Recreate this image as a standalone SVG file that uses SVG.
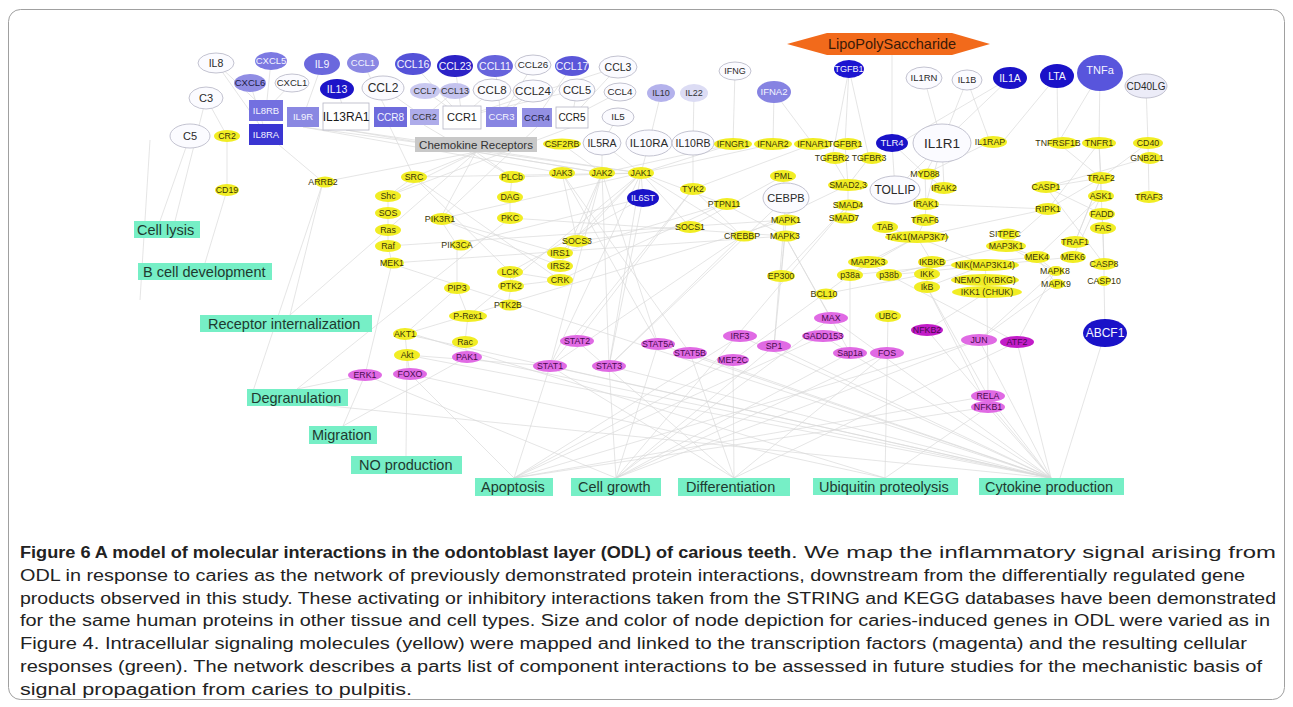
<svg xmlns="http://www.w3.org/2000/svg" width="1293" height="707" viewBox="0 0 1293 707">
<style>
text{font-family:"Liberation Sans",Arial,sans-serif;text-anchor:middle}
.w{fill:#fbfbff;stroke:#b4b4c4;stroke-width:0.8}
.y{fill:#f1ed24}
.m{fill:#e06ae4}
.md{fill:#c21cc8}
.g{fill:#76efc6}
.ty{font-size:8.8px;fill:#3a3508}
.tm{font-size:8.8px;fill:#4a0a50}
.tw{font-size:10.5px;fill:#2a2a2a}
.tb{font-size:10.5px;fill:#f4f4ff}
.tg{font-size:14.5px;fill:#1e3a30;text-anchor:start}
.cap{font-size:16px;fill:#222;text-anchor:start}
#connectors path{stroke:#dadada;stroke-width:0.7;fill:none}
</style>
<rect x="8.5" y="9.5" width="1276" height="690" rx="12" fill="#fff" stroke="#a0a0a0" stroke-width="1"/>

<g id="connectors">
<path d="M216 63L266 110M216 63L266 134M271 61L266 110M250 83L266 134M292 83L266 110M322 64L303 117M337 89L346 116M363 63L390 117M383 88L424 117M413 64L462 117M455 66L462 117M425 91L462 117M455 91L424 117M492 90L462 117M495 66L501 117M533 65L501 117M533 91L501 117M572 66L537 117M577 90L572 117M618 67L572 117M620 92L572 117M577 90L462 117M618 67L462 117"/>
<path d="M618 117L602 143M661 93L649 143M694 93L693 143M735 71L733 144M774 92L773 144M774 92L813 144M849 69L845 144M849 69L832 158M849 69L869 158M892 54L892 143M924 78L942 143M967 80L942 143M1010 78L942 143M967 80L990 142M1057 76L1058 143M1100 73L1099 143M1100 73L1058 143M1146 86L1148 143M1010 78L905 140M1057 76L1000 145"/>
<path d="M206 98L227 136M190 136L160 221M206 98L175 221M227 136L227 190M227 190L205 263M150 140L140 300M323 182L290 315M323 182L250 400"/>
<path d="M476 152L323 182M476 152L414 177M476 152L512 177M476 152L388 196M476 152L440 219M476 152L602 173M476 152L290 315M266 134L323 182M346 130L641 173M346 130L602 173M303 127L562 173M303 127L641 173M390 127L414 177M424 125L512 177M537 127L440 219M572 127L388 196"/>
<path d="M562 144L602 173M602 143L602 173M602 143L641 173M649 143L641 173M693 143L693 189M733 144L641 173M733 144L602 173M773 144L641 173M813 144L693 189M845 144L848 185M832 158L848 185M869 158L848 185M892 143L925 174M892 143L895 190M942 143L925 174M942 143L895 190M990 142L925 174M942 143L926 204M1058 143L1101 178M1099 143L1101 178M1099 143L1048 209M1099 143L1102 214M1148 143L1149 197M1148 143L1101 178M1147 158L1046 187"/>
<path d="M388 196L388 213L388 230L388 246L392 263M392 263L365 375M414 177L388 196M512 177L510 197L510 218M510 218L297 389M440 219L457 245L457 288M457 288L405 334M457 288L468 316L465 342L467 357M467 357L343 426M407 355L410 374M407 355L406 456M405 334L407 355M560 253L440 219M560 266L440 219M641 173L560 253M602 173L560 266M577 241L602 173M577 241L641 173M641 173L550 366M641 173L609 366M602 173L658 344M562 173L690 353M693 189L577 341M693 189L550 366M602 173L609 366M643 198L641 173M643 198L609 366M510 272L511 286L508 305M560 280L511 286M724 204L641 173M690 227L641 173M742 236L550 366M742 236L609 366M786 220L781 276M785 236L781 276L774 346M785 236L831 318M785 236L850 353M783 176L786 198M560 280L510 272M414 177L510 272M577 241L562 173"/>
<path d="M414 177L641 173M414 177L560 280M512 177L641 173M510 218L785 236M388 246L786 220M392 263L785 236M440 219L641 173M457 245L643 198M560 253L724 204M560 280L724 204M510 272L643 198M405 334L786 220M407 355L550 366M468 316L641 173M848 185L742 236M848 205L781 276M783 176L690 227M786 198L774 346M786 198L609 366M917 237L850 275M1006 246L889 275M1037 257L850 275M926 204L1048 209M1048 209L917 237M985 265L927 287M1006 246L1055 271M693 189L742 236M724 204L785 236M641 173L742 236M602 173L550 366M562 173L658 344M690 227L577 241M1101 178L1046 187M1102 214L1046 187"/>
<path d="M848 185L848 205L844 218M848 205L616 478M925 174L926 204M925 174L944 188M926 204L925 220L917 237M885 227L917 237M917 237L868 262M917 237L932 262M917 237L985 265M868 262L850 275M868 262L889 275M932 262L927 274L927 287M927 287L988 396M927 287L988 407M985 265L987 292M985 280L987 292M987 292L988 396M987 292L927 330M850 275L733 360M889 275L1017 342M850 275L850 353M824 294L927 274M1006 246L1037 257M1037 257L1055 271M1037 257L1056 284M1055 271L979 340M1056 284L979 340M1055 271L1017 342M1101 178L1101 196M1101 196L1073 257M1101 196L1037 257M1101 178L1075 242M1073 257L889 275M1102 214L1103 228M1102 214L1104 264M1103 228L1104 264L1104 281L1105 333M1105 333L1060 478M1048 209L1006 246M1048 209L1101 178M1046 187L1104 264M1075 242L1101 178M895 190L926 204M942 143L944 188"/>
<path d="M550 366L514 478M609 366L616 478M658 344L616 478M690 353L734 478M733 360L734 478M740 336L1051 478M774 346L616 478M831 318L616 478M823 336L514 478M887 353L616 478M887 353L734 478M979 340L1051 478M979 340L514 478M1017 342L1051 478M988 396L1051 478M988 407L1051 478M927 330L1051 478M988 396L514 478M850 353L616 478M410 374L514 478M365 375L343 426M365 375L297 389M577 341L734 478M550 366L1051 478M609 366L1051 478M888 316L885 478M988 407L885 478M365 375L616 478M405 334L1051 478M407 355L1051 478M410 374L885 478M467 357L1051 478M550 366L734 478M774 346L1051 478M740 336L514 478M831 318L1051 478M979 340L616 478M823 336L1051 478M1017 342L734 478M988 407L514 478M658 344L1051 478M690 353L1051 478M733 360L514 478M270 400L1051 478M400 330L885 478M380 260L1051 478"/>
</g>

<g id="n-LPS"><polygon points="787,44 827,33 952,33 990,44 952,55 827,55" fill="#f26a1b"/><text x="892" y="49" style="font-size:14.5px;fill:#3a1a08">LipoPolySaccharide</text></g>

<g id="n-IL8"><ellipse class="w" cx="216" cy="63" rx="18" ry="10"/><text class="tw" x="216" y="63" dy=".35em">IL8</text></g>
<g id="n-CXCL5"><ellipse cx="271" cy="61" rx="16" ry="9" fill="#7c79e2"/><text class="tb" x="271" y="61" dy=".35em" style="font-size:9.5px">CXCL5</text></g>
<g id="n-IL9"><ellipse cx="322" cy="64" rx="18" ry="11" fill="#6b68dd"/><text class="tb" x="322" y="64" dy=".35em">IL9</text></g>
<g id="n-CCL1"><ellipse cx="363" cy="63" rx="16" ry="10" fill="#8a87e3"/><text class="tb" x="363" y="63" dy=".35em" style="font-size:9.5px">CCL1</text></g>
<g id="n-CCL16"><ellipse cx="413" cy="64" rx="18" ry="11" fill="#5552d8"/><text class="tb" x="413" y="64" dy=".35em">CCL16</text></g>
<g id="n-CCL23"><ellipse cx="455" cy="66" rx="18" ry="11" fill="#2c22c6"/><text class="tb" x="455" y="66" dy=".35em">CCL23</text></g>
<g id="n-CCL11"><ellipse cx="495" cy="66" rx="18" ry="11" fill="#6663dc"/><text class="tb" x="495" y="66" dy=".35em">CCL11</text></g>
<g id="n-CCL26"><ellipse class="w" cx="533" cy="65" rx="18" ry="10"/><text class="tw" x="533" y="65" dy=".35em" style="font-size:9.8px">CCL26</text></g>
<g id="n-CCL17"><ellipse cx="572" cy="66" rx="17" ry="10" fill="#5a56d9"/><text class="tb" x="572" y="66" dy=".35em">CCL17</text></g>
<g id="n-CCL3"><ellipse class="w" cx="618" cy="67" rx="19" ry="11"/><text class="tw" x="618" y="67" dy=".35em">CCL3</text></g>
<g id="n-CXCL6"><ellipse cx="250" cy="83" rx="16" ry="9" fill="#908de4"/><text x="250" y="83" dy=".35em" style="font-size:9.5px;fill:#1c1c44">CXCL6</text></g>
<g id="n-CXCL1"><ellipse class="w" cx="292" cy="83" rx="17" ry="9"/><text class="tw" x="292" y="83" dy=".35em" style="font-size:9.5px">CXCL1</text></g>
<g id="n-IL13"><ellipse cx="337" cy="89" rx="17" ry="10" fill="#1c14c8"/><text class="tb" x="337" y="89" dy=".35em">IL13</text></g>
<g id="n-CCL2"><ellipse class="w" cx="383" cy="88" rx="21" ry="12"/><text class="tw" x="383" y="88" dy=".35em" style="font-size:12px">CCL2</text></g>
<g id="n-CCL7"><ellipse cx="425" cy="91" rx="15" ry="8" fill="#c9c8f0"/><text x="425" y="91" dy=".35em" style="font-size:9px;fill:#333">CCL7</text></g>
<g id="n-CCL13"><ellipse cx="455" cy="91" rx="15" ry="8" fill="#c4c3ee"/><text x="455" y="91" dy=".35em" style="font-size:9px;fill:#333">CCL13</text></g>
<g id="n-CCL8"><ellipse class="w" cx="492" cy="90" rx="19" ry="11"/><text class="tw" x="492" y="90" dy=".35em" style="font-size:11.5px">CCL8</text></g>
<g id="n-CCL24"><ellipse class="w" cx="533" cy="91" rx="20" ry="11"/><text class="tw" x="533" y="91" dy=".35em" style="font-size:11.5px">CCL24</text></g>
<g id="n-CCL5"><ellipse class="w" cx="577" cy="90" rx="18" ry="11"/><text class="tw" x="577" y="90" dy=".35em" style="font-size:11px">CCL5</text></g>
<g id="n-CCL4"><ellipse class="w" cx="620" cy="92" rx="16" ry="9"/><text class="tw" x="620" y="92" dy=".35em" style="font-size:9.8px">CCL4</text></g>
<g id="n-IL10"><ellipse cx="661" cy="93" rx="14" ry="9" fill="#b4b2ec"/><text x="661" y="93" dy=".35em" style="font-size:9px;fill:#333">IL10</text></g>
<g id="n-IL22"><ellipse cx="694" cy="93" rx="14" ry="9" fill="#dcdcf4"/><text x="694" y="93" dy=".35em" style="font-size:9px;fill:#333">IL22</text></g>
<g id="n-C3"><ellipse class="w" cx="206" cy="98" rx="17" ry="11"/><text class="tw" x="206" y="98" dy=".35em" style="font-size:11px">C3</text></g>
<g id="n-C5"><ellipse class="w" cx="190" cy="136" rx="20" ry="12"/><text class="tw" x="190" y="136" dy=".35em" style="font-size:11px">C5</text></g>
<g id="n-IL5"><ellipse class="w" cx="618" cy="117" rx="16" ry="9"/><text class="tw" x="618" y="117" dy=".35em" style="font-size:9.8px">IL5</text></g>
<g id="n-IFNG"><ellipse class="w" cx="735" cy="71" rx="16" ry="9"/><text class="tw" x="735" y="71" dy=".35em" style="font-size:9px">IFNG</text></g>
<g id="n-IFNA2"><ellipse cx="774" cy="92" rx="17" ry="11" fill="#8683e2"/><text class="tb" x="774" y="92" dy=".35em" style="font-size:9.5px">IFNA2</text></g>
<g id="n-TGFB1"><ellipse cx="849" cy="69" rx="15" ry="9" fill="#1c14d0"/><text class="tb" x="849" y="69" dy=".35em" style="font-size:9px">TGFB1</text></g>
<g id="n-IL1RN"><ellipse class="w" cx="924" cy="78" rx="18" ry="11"/><text class="tw" x="924" y="78" dy=".35em" style="font-size:9.5px">IL1RN</text></g>
<g id="n-IL1B"><ellipse class="w" cx="967" cy="80" rx="15" ry="10"/><text class="tw" x="967" y="80" dy=".35em" style="font-size:9px">IL1B</text></g>
<g id="n-IL1A"><ellipse cx="1010" cy="78" rx="17" ry="11" fill="#1a12c8"/><text class="tb" x="1010" y="78" dy=".35em">IL1A</text></g>
<g id="n-LTA"><ellipse cx="1057" cy="76" rx="17" ry="12" fill="#1a12c8"/><text class="tb" x="1057" y="76" dy=".35em">LTA</text></g>
<g id="n-TNFa"><ellipse cx="1100" cy="73" rx="23" ry="18" fill="#5855dc"/><text class="tb" x="1100" y="70" dy=".35em" style="font-size:11px">TNFa</text></g>
<g id="n-CD40LG"><ellipse cx="1146" cy="86" rx="21" ry="12" fill="#ececf8" stroke="#b4b4c4" stroke-width="0.8"/><text class="tw" x="1146" y="86" dy=".35em" style="font-size:10px">CD40LG</text></g>

<g id="n-IL8RB"><rect x="249" y="100" width="34" height="21" fill="#7370e0"/><text class="tb" x="266" y="110.5" dy=".35em" style="font-size:9.5px">IL8RB</text></g>
<g id="n-IL8RA"><rect x="249" y="124" width="34" height="21" fill="#3a35d2"/><text class="tb" x="266" y="134.5" dy=".35em" style="font-size:9.5px">IL8RA</text></g>
<g id="n-IL9R"><rect x="287" y="107" width="32" height="20" fill="#8a88e2"/><text class="tb" x="303" y="117" dy=".35em" style="font-size:9.5px">IL9R</text></g>
<g id="n-IL13RA1"><rect x="323" y="103" width="46" height="27" fill="#fff" stroke="#b4b4c4" stroke-width="0.8"/><text x="346" y="116.5" dy=".35em" style="font-size:12px;fill:#1a1a1a">IL13RA1</text></g>
<g id="n-CCR8"><rect x="374" y="107" width="33" height="20" fill="#6e6bdc"/><text class="tb" x="390.5" y="117" dy=".35em" style="font-size:10px">CCR8</text></g>
<g id="n-CCR2"><rect x="410" y="109" width="29" height="16" fill="#aeacea"/><text x="424.5" y="117" dy=".35em" style="font-size:9px;fill:#333">CCR2</text></g>
<g id="n-CCR1"><rect x="443" y="106" width="38" height="23" fill="#fff" stroke="#b4b4c4" stroke-width="0.8"/><text x="462" y="117.5" dy=".35em" style="font-size:11px;fill:#1a1a1a">CCR1</text></g>
<g id="n-CCR3"><rect x="486" y="107" width="31" height="20" fill="#8885e2"/><text class="tb" x="501.5" y="117" dy=".35em" style="font-size:9.5px">CCR3</text></g>
<g id="n-CCR4"><rect x="522" y="108" width="30" height="19" fill="#9390e4"/><text x="537" y="117.5" dy=".35em" style="font-size:9.5px;fill:#1c1c44">CCR4</text></g>
<g id="n-CCR5"><rect x="556" y="107" width="32" height="21" fill="#fff" stroke="#b4b4c4" stroke-width="0.8"/><text x="572" y="117.5" dy=".35em" style="font-size:10px;fill:#1a1a1a">CCR5</text></g>
<g id="n-ChemR"><rect x="415" y="137" width="122" height="15" fill="#c8c8c8"/><text x="476" y="144.5" dy=".35em" style="font-size:11.5px;fill:#333">Chemokine Receptors</text></g>

<g id="n-CSF2RB"><ellipse class="y" cx="562" cy="144" rx="19" ry="5.5"/><text class="ty" x="562" y="144" dy=".35em">CSF2RB</text></g>
<g id="n-IL5RA"><ellipse class="w" cx="602" cy="143" rx="19" ry="12"/><text class="tw" x="602" y="143" dy=".35em">IL5RA</text></g>
<g id="n-IL10RA"><ellipse class="w" cx="649" cy="143" rx="23" ry="13"/><text class="tw" x="649" y="143" dy=".35em" style="font-size:11.5px">IL10RA</text></g>
<g id="n-IL10RB"><ellipse class="w" cx="693" cy="143" rx="21" ry="12"/><text class="tw" x="693" y="143" dy=".35em">IL10RB</text></g>
<g id="n-IFNGR1"><ellipse class="y" cx="733" cy="144" rx="19" ry="6"/><text class="ty" x="733" y="144" dy=".35em">IFNGR1</text></g>
<g id="n-IFNAR2"><ellipse class="y" cx="773" cy="144" rx="19" ry="6"/><text class="ty" x="773" y="144" dy=".35em">IFNAR2</text></g>
<g id="n-IFNAR1"><ellipse class="y" cx="813" cy="144" rx="19" ry="6"/><text class="ty" x="813" y="144" dy=".35em">IFNAR1</text></g>
<g id="n-TGFBR1"><ellipse class="y" cx="848" cy="144" rx="14" ry="6"/><text class="ty" x="845" y="144" dy=".35em">TGFBR1</text></g>
<g id="n-TGFBR2"><ellipse class="y" cx="835" cy="158" rx="12" ry="6"/><text class="ty" x="832" y="158" dy=".35em">TGFBR2</text></g>
<g id="n-TGFBR3"><ellipse class="y" cx="872" cy="158" rx="12" ry="6"/><text class="ty" x="869" y="158" dy=".35em">TGFBR3</text></g>
<g id="n-TLR4"><ellipse cx="892" cy="143" rx="16" ry="9" fill="#1a12c8"/><text class="tb" x="892" y="143" dy=".35em" style="font-size:9.5px">TLR4</text></g>
<g id="n-IL1R1"><ellipse class="w" cx="942" cy="143" rx="29" ry="19"/><text class="tw" x="942" y="143" dy=".35em" style="font-size:13.5px">IL1R1</text></g>
<g id="n-IL1RAP"><ellipse class="y" cx="993" cy="142" rx="14" ry="6"/><text class="ty" x="990" y="142" dy=".35em">IL1RAP</text></g>
<g id="n-TNFRSF1B"><ellipse class="y" cx="1063" cy="143" rx="15" ry="6"/><text class="ty" x="1058" y="143" dy=".35em">TNFRSF1B</text></g>
<g id="n-TNFR1"><ellipse class="y" cx="1099" cy="143" rx="17" ry="6"/><text class="ty" x="1099" y="143" dy=".35em">TNFR1</text></g>
<g id="n-CD40"><ellipse class="y" cx="1148" cy="143" rx="15" ry="6"/><text class="ty" x="1148" y="143" dy=".35em">CD40</text></g>
<g id="n-GNB2L1"><ellipse class="y" cx="1150" cy="158" rx="11" ry="6"/><text class="ty" x="1147" y="158" dy=".35em">GNB2L1</text></g>

<g id="n-CR2"><ellipse class="y" cx="227" cy="136" rx="13" ry="6"/><text class="ty" x="227" y="136" dy=".35em">CR2</text></g>
<g id="n-CD19"><ellipse class="y" cx="227" cy="190" rx="12" ry="6"/><text class="ty" x="227" y="190" dy=".35em">CD19</text></g>
<g id="n-ARRB2"><ellipse class="y" cx="325" cy="182" rx="10" ry="5.5"/><text class="ty" x="323" y="182" dy=".35em">ARRB2</text></g>
<g id="n-SRC"><ellipse class="y" cx="414" cy="177" rx="13" ry="6"/><text class="ty" x="414" y="177" dy=".35em">SRC</text></g>
<g id="n-Shc"><ellipse class="y" cx="388" cy="196" rx="13" ry="6"/><text class="ty" x="388" y="196" dy=".35em">Shc</text></g>
<g id="n-SOS"><ellipse class="y" cx="388" cy="213" rx="13" ry="6"/><text class="ty" x="388" y="213" dy=".35em">SOS</text></g>
<g id="n-Ras"><ellipse class="y" cx="388" cy="230" rx="13" ry="6"/><text class="ty" x="388" y="230" dy=".35em">Ras</text></g>
<g id="n-Raf"><ellipse class="y" cx="388" cy="246" rx="13" ry="6"/><text class="ty" x="388" y="246" dy=".35em">Raf</text></g>
<g id="n-MEK1"><ellipse class="y" cx="393" cy="263" rx="11" ry="5.5"/><text class="ty" x="392" y="263" dy=".35em">MEK1</text></g>
<g id="n-PLCb"><ellipse class="y" cx="512" cy="177" rx="13" ry="6"/><text class="ty" x="512" y="177" dy=".35em">PLCb</text></g>
<g id="n-DAG"><ellipse class="y" cx="510" cy="197" rx="13" ry="6"/><text class="ty" x="510" y="197" dy=".35em">DAG</text></g>
<g id="n-PKC"><ellipse class="y" cx="510" cy="218" rx="13" ry="6"/><text class="ty" x="510" y="218" dy=".35em">PKC</text></g>
<g id="n-PIK3R1"><ellipse class="y" cx="442" cy="219" rx="12" ry="6"/><text class="ty" x="440" y="219" dy=".35em">PIK3R1</text></g>
<g id="n-PIK3CA"><ellipse class="y" cx="461" cy="245" rx="10" ry="5.5"/><text class="ty" x="457" y="245" dy=".35em">PIK3CA</text></g>
<g id="n-JAK3"><ellipse class="y" cx="562" cy="173" rx="13" ry="6"/><text class="ty" x="562" y="173" dy=".35em">JAK3</text></g>
<g id="n-JAK2"><ellipse class="y" cx="602" cy="173" rx="13" ry="6"/><text class="ty" x="602" y="173" dy=".35em">JAK2</text></g>
<g id="n-JAK1"><ellipse class="y" cx="641" cy="173" rx="13" ry="6"/><text class="ty" x="641" y="173" dy=".35em">JAK1</text></g>
<g id="n-IL6ST"><ellipse cx="643" cy="198" rx="16" ry="9" fill="#1a12c8"/><text class="tb" x="643" y="198" dy=".35em" style="font-size:9px">IL6ST</text></g>
<g id="n-SOCS3"><ellipse class="y" cx="577" cy="241" rx="13" ry="6"/><text class="ty" x="577" y="241" dy=".35em">SOCS3</text></g>
<g id="n-IRS1"><ellipse class="y" cx="560" cy="253" rx="13" ry="6"/><text class="ty" x="560" y="253" dy=".35em">IRS1</text></g>
<g id="n-IRS2"><ellipse class="y" cx="560" cy="266" rx="13" ry="6"/><text class="ty" x="560" y="266" dy=".35em">IRS2</text></g>
<g id="n-CRK"><ellipse class="y" cx="560" cy="280" rx="13" ry="6"/><text class="ty" x="560" y="280" dy=".35em">CRK</text></g>
<g id="n-LCK"><ellipse class="y" cx="510" cy="272" rx="13" ry="6"/><text class="ty" x="510" y="272" dy=".35em">LCK</text></g>
<g id="n-PTK2"><ellipse class="y" cx="511" cy="286" rx="13" ry="6"/><text class="ty" x="511" y="286" dy=".35em">PTK2</text></g>
<g id="n-PIP3"><ellipse class="y" cx="457" cy="288" rx="13" ry="6"/><text class="ty" x="457" y="288" dy=".35em">PIP3</text></g>
<g id="n-PTK2B"><ellipse class="y" cx="510" cy="305" rx="11" ry="5.5"/><text class="ty" x="508" y="305" dy=".35em">PTK2B</text></g>
<g id="n-PRex1"><ellipse class="y" cx="468" cy="316" rx="19" ry="6"/><text class="ty" x="468" y="316" dy=".35em">P-Rex1</text></g>
<g id="n-AKT1"><ellipse class="y" cx="405" cy="334" rx="12" ry="6"/><text class="ty" x="405" y="334" dy=".35em">AKT1</text></g>
<g id="n-Akt"><ellipse class="y" cx="407" cy="355" rx="13" ry="6"/><text class="ty" x="407" y="355" dy=".35em">Akt</text></g>
<g id="n-Rac"><ellipse class="y" cx="465" cy="342" rx="13" ry="6"/><text class="ty" x="465" y="342" dy=".35em">Rac</text></g>
<g id="n-TYK2"><ellipse class="y" cx="693" cy="189" rx="13" ry="6"/><text class="ty" x="693" y="189" dy=".35em">TYK2</text></g>
<g id="n-PTPN11"><ellipse class="y" cx="727" cy="204" rx="13" ry="6"/><text class="ty" x="724" y="204" dy=".35em">PTPN11</text></g>
<g id="n-SOCS1"><ellipse class="y" cx="690" cy="227" rx="13" ry="6"/><text class="ty" x="690" y="227" dy=".35em">SOCS1</text></g>
<g id="n-CREBBP"><ellipse class="y" cx="744" cy="236" rx="12" ry="5.5"/><text class="ty" x="742" y="236" dy=".35em">CREBBP</text></g>
<g id="n-PML"><ellipse class="y" cx="783" cy="176" rx="13" ry="6"/><text class="ty" x="783" y="176" dy=".35em">PML</text></g>
<g id="n-CEBPB"><ellipse class="w" cx="786" cy="198" rx="23" ry="15"/><text class="tw" x="786" y="198" dy=".35em" style="font-size:11px">CEBPB</text></g>
<g id="n-MAPK1"><ellipse class="y" cx="787" cy="220" rx="13" ry="5.5"/><text class="ty" x="786" y="220" dy=".35em">MAPK1</text></g>
<g id="n-MAPK3"><ellipse class="y" cx="786" cy="236" rx="13" ry="5.5"/><text class="ty" x="785" y="236" dy=".35em">MAPK3</text></g>
<g id="n-EP300"><ellipse class="y" cx="781" cy="276" rx="14" ry="6"/><text class="ty" x="781" y="276" dy=".35em">EP300</text></g>
<g id="n-SMAD23"><ellipse class="y" cx="848" cy="185" rx="20" ry="6"/><text class="ty" x="848" y="185" dy=".35em">SMAD2,3</text></g>
<g id="n-SMAD4"><ellipse class="y" cx="849" cy="205" rx="14" ry="5.5"/><text class="ty" x="848" y="205" dy=".35em">SMAD4</text></g>
<g id="n-SMAD7"><ellipse class="y" cx="845" cy="218" rx="13" ry="5.5"/><text class="ty" x="844" y="218" dy=".35em">SMAD7</text></g>
<g id="n-TOLLIP"><ellipse class="w" cx="895" cy="190" rx="25" ry="14"/><text class="tw" x="895" y="190" dy=".35em" style="font-size:12px">TOLLIP</text></g>
<g id="n-MYD88"><ellipse class="y" cx="928" cy="174" rx="11" ry="5.5"/><text class="ty" x="925" y="174" dy=".35em">MYD88</text></g>
<g id="n-IRAK2"><ellipse class="y" cx="944" cy="188" rx="13" ry="6"/><text class="ty" x="944" y="188" dy=".35em">IRAK2</text></g>
<g id="n-IRAK1"><ellipse class="y" cx="926" cy="204" rx="13" ry="6"/><text class="ty" x="926" y="204" dy=".35em">IRAK1</text></g>
<g id="n-TRAF6"><ellipse class="y" cx="925" cy="220" rx="13" ry="6"/><text class="ty" x="925" y="220" dy=".35em">TRAF6</text></g>
<g id="n-TAB"><ellipse class="y" cx="885" cy="227" rx="13" ry="6"/><text class="ty" x="885" y="227" dy=".35em">TAB</text></g>
<g id="n-TAK1"><ellipse class="y" cx="917" cy="237" rx="32" ry="6"/><text class="ty" x="917" y="237" dy=".35em">TAK1(MAP3K7)</text></g>
<g id="n-MAP2K3"><ellipse class="y" cx="868" cy="262" rx="20" ry="6"/><text class="ty" x="868" y="262" dy=".35em">MAP2K3</text></g>
<g id="n-IKBKB"><ellipse class="y" cx="932" cy="262" rx="14" ry="6"/><text class="ty" x="932" y="262" dy=".35em">IKBKB</text></g>
<g id="n-p38a"><ellipse class="y" cx="850" cy="275" rx="13" ry="6"/><text class="ty" x="850" y="275" dy=".35em">p38a</text></g>
<g id="n-p38b"><ellipse class="y" cx="889" cy="275" rx="13" ry="6"/><text class="ty" x="889" y="275" dy=".35em">p38b</text></g>
<g id="n-IKK"><ellipse class="y" cx="927" cy="274" rx="13" ry="6"/><text class="ty" x="927" y="274" dy=".35em">IKK</text></g>
<g id="n-IkB"><ellipse class="y" cx="927" cy="287" rx="13" ry="6"/><text class="ty" x="927" y="287" dy=".35em">IkB</text></g>
<g id="n-BCL10"><ellipse class="y" cx="826" cy="294" rx="11" ry="5.5"/><text class="ty" x="824" y="294" dy=".35em">BCL10</text></g>
<g id="n-UBC"><ellipse class="y" cx="888" cy="316" rx="13" ry="6"/><text class="ty" x="888" y="316" dy=".35em">UBC</text></g>
<g id="n-SITPEC"><ellipse class="y" cx="1008" cy="234" rx="11" ry="5.5"/><text class="ty" x="1005" y="234" dy=".35em">SITPEC</text></g>
<g id="n-MAP3K1"><ellipse class="y" cx="1006" cy="246" rx="20" ry="6"/><text class="ty" x="1006" y="246" dy=".35em">MAP3K1</text></g>
<g id="n-NIK"><ellipse class="y" cx="985" cy="265" rx="34" ry="6"/><text class="ty" x="985" y="265" dy=".35em">NIK(MAP3K14)</text></g>
<g id="n-NEMO"><ellipse class="y" cx="985" cy="280" rx="34" ry="6"/><text class="ty" x="985" y="280" dy=".35em">NEMO (IKBKG)</text></g>
<g id="n-IKK1"><ellipse class="y" cx="987" cy="292" rx="35" ry="6"/><text class="ty" x="987" y="292" dy=".35em">IKK1 (CHUK)</text></g>
<g id="n-CASP1"><ellipse class="y" cx="1046" cy="187" rx="14" ry="6"/><text class="ty" x="1046" y="187" dy=".35em">CASP1</text></g>
<g id="n-RIPK1"><ellipse class="y" cx="1048" cy="209" rx="13" ry="6"/><text class="ty" x="1048" y="209" dy=".35em">RIPK1</text></g>
<g id="n-TRAF2"><ellipse class="y" cx="1101" cy="178" rx="13" ry="6"/><text class="ty" x="1101" y="178" dy=".35em">TRAF2</text></g>
<g id="n-ASK1"><ellipse class="y" cx="1101" cy="196" rx="13" ry="6"/><text class="ty" x="1101" y="196" dy=".35em">ASK1</text></g>
<g id="n-TRAF3"><ellipse class="y" cx="1149" cy="197" rx="13" ry="6"/><text class="ty" x="1149" y="197" dy=".35em">TRAF3</text></g>
<g id="n-FADD"><ellipse class="y" cx="1102" cy="214" rx="13" ry="6"/><text class="ty" x="1102" y="214" dy=".35em">FADD</text></g>
<g id="n-FAS"><ellipse class="y" cx="1103" cy="228" rx="13" ry="6"/><text class="ty" x="1103" y="228" dy=".35em">FAS</text></g>
<g id="n-TRAF1"><ellipse class="y" cx="1075" cy="242" rx="14" ry="6"/><text class="ty" x="1075" y="242" dy=".35em">TRAF1</text></g>
<g id="n-MEK4"><ellipse class="y" cx="1037" cy="257" rx="13" ry="6"/><text class="ty" x="1037" y="257" dy=".35em">MEK4</text></g>
<g id="n-MEK6"><ellipse class="y" cx="1073" cy="257" rx="13" ry="6"/><text class="ty" x="1073" y="257" dy=".35em">MEK6</text></g>
<g id="n-CASP8"><ellipse class="y" cx="1104" cy="264" rx="13" ry="6"/><text class="ty" x="1104" y="264" dy=".35em">CASP8</text></g>
<g id="n-MAPK8"><ellipse class="y" cx="1056" cy="271" rx="8" ry="5"/><text class="ty" x="1055" y="271" dy=".35em">MAPK8</text></g>
<g id="n-CASP10"><ellipse class="y" cx="1104" cy="281" rx="7" ry="5"/><text class="ty" x="1104" y="281" dy=".35em">CASP10</text></g>
<g id="n-MAPK9"><ellipse class="y" cx="1057" cy="284" rx="8" ry="5"/><text class="ty" x="1056" y="284" dy=".35em">MAPK9</text></g>
<g id="n-ABCF1"><ellipse cx="1105" cy="333" rx="22" ry="14" fill="#1a12c8"/><text class="tb" x="1105" y="333" dy=".35em" style="font-size:12px">ABCF1</text></g>

<g id="n-STAT2"><ellipse class="m" cx="577" cy="341" rx="17" ry="6"/><text class="tm" x="577" y="341" dy=".35em">STAT2</text></g>
<g id="n-STAT5A"><ellipse class="m" cx="658" cy="344" rx="17" ry="6"/><text class="tm" x="658" y="344" dy=".35em">STAT5A</text></g>
<g id="n-STAT1"><ellipse class="m" cx="550" cy="366" rx="17" ry="6"/><text class="tm" x="550" y="366" dy=".35em">STAT1</text></g>
<g id="n-STAT3"><ellipse class="m" cx="609" cy="366" rx="17" ry="6"/><text class="tm" x="609" y="366" dy=".35em">STAT3</text></g>
<g id="n-STAT5B"><ellipse class="m" cx="690" cy="353" rx="17" ry="6"/><text class="tm" x="690" y="353" dy=".35em">STAT5B</text></g>
<g id="n-MEF2C"><ellipse class="m" cx="733" cy="360" rx="16" ry="6"/><text class="tm" x="733" y="360" dy=".35em">MEF2C</text></g>
<g id="n-IRF3"><ellipse class="m" cx="740" cy="336" rx="17" ry="6"/><text class="tm" x="740" y="336" dy=".35em">IRF3</text></g>
<g id="n-SP1"><ellipse class="m" cx="774" cy="346" rx="17" ry="6"/><text class="tm" x="774" y="346" dy=".35em">SP1</text></g>
<g id="n-MAX"><ellipse class="m" cx="831" cy="318" rx="17" ry="6"/><text class="tm" x="831" y="318" dy=".35em">MAX</text></g>
<g id="n-GADD153"><ellipse class="m" cx="823" cy="336" rx="21" ry="6"/><text class="tm" x="823" y="336" dy=".35em">GADD153</text></g>
<g id="n-NFKB2"><ellipse class="md" cx="927" cy="330" rx="16" ry="6"/><text class="tm" x="927" y="330" dy=".35em">NFKB2</text></g>
<g id="n-Sap1a"><ellipse class="m" cx="850" cy="353" rx="17" ry="6"/><text class="tm" x="850" y="353" dy=".35em">Sap1a</text></g>
<g id="n-FOS"><ellipse class="m" cx="887" cy="353" rx="17" ry="6"/><text class="tm" x="887" y="353" dy=".35em">FOS</text></g>
<g id="n-JUN"><ellipse class="m" cx="979" cy="340" rx="18" ry="6"/><text class="tm" x="979" y="340" dy=".35em">JUN</text></g>
<g id="n-ATF2"><ellipse class="md" cx="1017" cy="342" rx="17" ry="6"/><text class="tm" x="1017" y="342" dy=".35em">ATF2</text></g>
<g id="n-RELA"><ellipse class="m" cx="988" cy="396" rx="17" ry="6"/><text class="tm" x="988" y="396" dy=".35em">RELA</text></g>
<g id="n-NFKB1"><ellipse class="m" cx="988" cy="407" rx="17" ry="6"/><text class="tm" x="988" y="407" dy=".35em">NFKB1</text></g>
<g id="n-ERK1"><ellipse class="m" cx="365" cy="375" rx="17" ry="6"/><text class="tm" x="365" y="375" dy=".35em">ERK1</text></g>
<g id="n-FOXO"><ellipse class="m" cx="410" cy="374" rx="17" ry="6"/><text class="tm" x="410" y="374" dy=".35em">FOXO</text></g>
<g id="n-PAK1"><ellipse class="m" cx="467" cy="357" rx="15" ry="6"/><text class="tm" x="467" y="357" dy=".35em">PAK1</text></g>

<g id="r-CellLysis"><rect class="g" x="134" y="221" width="66" height="17"/><text class="tg" x="137" y="235">Cell lysis</text></g>
<g id="r-BCell"><rect class="g" x="138" y="263" width="134" height="17"/><text class="tg" x="143" y="277">B cell development</text></g>
<g id="r-RecInt"><rect class="g" x="200" y="315" width="172" height="17"/><text class="tg" x="208" y="329">Receptor internalization</text></g>
<g id="r-Degran"><rect class="g" x="247" y="389" width="101" height="17"/><text class="tg" x="251" y="403">Degranulation</text></g>
<g id="r-Migration"><rect class="g" x="309" y="426" width="68" height="18"/><text class="tg" x="312" y="440">Migration</text></g>
<g id="r-NO"><rect class="g" x="351" y="456" width="111" height="18"/><text class="tg" x="359" y="470">NO production</text></g>
<g id="r-Apoptosis"><rect class="g" x="475" y="478" width="78" height="18"/><text class="tg" x="481" y="492">Apoptosis</text></g>
<g id="r-CellGrowth"><rect class="g" x="571" y="478" width="90" height="18"/><text class="tg" x="578" y="492">Cell growth</text></g>
<g id="r-Diff"><rect class="g" x="678" y="478" width="112" height="18"/><text class="tg" x="686" y="492">Differentiation</text></g>
<g id="r-Ubiq"><rect class="g" x="813" y="478" width="145" height="17"/><text class="tg" x="819" y="492">Ubiquitin proteolysis</text></g>
<g id="r-Cytokine"><rect class="g" x="979" y="478" width="145" height="17"/><text class="tg" x="985" y="492">Cytokine production</text></g>

<g id="caption">
<text class="cap" x="20" y="558" textLength="771" lengthAdjust="spacingAndGlyphs" style="font-weight:bold">Figure 6 A model of molecular interactions in the odontoblast layer (ODL) of carious teeth</text>
<text class="cap" x="791" y="558" textLength="485" lengthAdjust="spacingAndGlyphs">. We map the inflammatory signal arising from</text>
<text class="cap" x="20" y="581" textLength="1225" lengthAdjust="spacingAndGlyphs">ODL in response to caries as the network of previously demonstrated protein interactions, downstream from the differentially regulated gene</text>
<text class="cap" x="20" y="604" textLength="1256" lengthAdjust="spacingAndGlyphs">products observed in this study. These activating or inhibitory interactions taken from the STRING and KEGG databases have been demonstrated</text>
<text class="cap" x="20" y="626" textLength="1250" lengthAdjust="spacingAndGlyphs">for the same human proteins in other tissue and cell types. Size and color of node depiction for caries-induced genes in ODL were varied as in</text>
<text class="cap" x="20" y="649" textLength="1227" lengthAdjust="spacingAndGlyphs">Figure 4. Intracellular signaling molecules (yellow) were mapped and linked to the transcription factors (magenta) and the resulting cellular</text>
<text class="cap" x="20" y="672" textLength="1242" lengthAdjust="spacingAndGlyphs">responses (green). The network describes a parts list of component interactions to be assessed in future studies for the mechanistic basis of</text>
<text class="cap" x="20" y="695" textLength="392" lengthAdjust="spacingAndGlyphs">signal propagation from caries to pulpitis.</text>
</g>
</svg>
